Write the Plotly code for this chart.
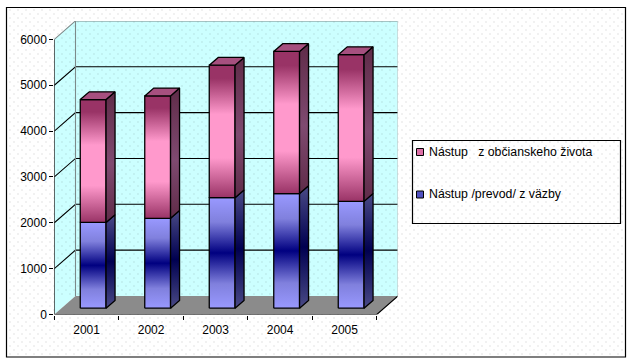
import numpy as np
import plotly.graph_objects as go

# ---- data
years = ["2001", "2002", "2003", "2004", "2005"]
vazby = [1870, 1960, 2410, 2500, 2330]
obcianske = [2680, 2670, 2890, 3100, 3200]
y_ticks = [0, 1000, 2000, 3000, 4000, 5000, 6000]
name_top = "Nástup   z občianskeho života"
name_bottom = "Nástup /prevod/ z väzby"

W, H = 632, 364
FONT = "Liberation Sans, Arial, sans-serif"

# plot window in pixels and the linear scales that follow from it
L, R, T, B = 54.3, 397.5, 21.0, 314.5
PX_X = 64.5
PX_Y = 0.04585
xr = [-0.5, -0.5 + (R - L) / PX_X]
yr = [0, (B - T) / PX_Y]
DX, DY = 21.2 / PX_X, 18.5 / PX_Y            # wall depth
X_END = 4.5
Y_TOP = 6000
BAR_OFF_X, BAR_OFF_Y = 6.6 / PX_X, 6.3 / PX_Y  # bars stand inside the floor
BW = 25.8 / PX_X                              # bar width
BDX, BDY = 9.0 / PX_X, 7.8 / PX_Y             # bar depth


def px_x(p):
    return xr[0] + (np.asarray(p, float) - L) / PX_X


def px_y(p):
    return (B - np.asarray(p, float)) / PX_Y


fig = go.Figure()
AX = dict(xaxis="x2", yaxis="y2", hoverinfo="skip", showlegend=False)


def poly(xs, ys, fill=None, line="rgba(0,0,0,0)", width=0, grad=None):
    kw = dict(fillgradient=grad) if grad else dict(fillcolor=fill)
    fig.add_trace(go.Scatter(x=xs, y=ys, mode="lines", fill="toself",
                             line=dict(color=line, width=width), **kw, **AX))


def seg(xs, ys, color="black", width=1):
    fig.add_trace(go.Scatter(x=xs, y=ys, mode="lines",
                             line=dict(color=color, width=width), **AX))


def dots(x0, x1, y0, y1):
    out_x, out_y = [], []
    for r, py in enumerate(np.arange(y0, y1, 4)):
        start = x0 + (4 if r % 2 else 0)
        for px in np.arange(start, x1, 8):
            out_x.append(px)
            out_y.append(py)
    return np.array(out_x), np.array(out_y)


# paper texture, in the full-figure pixel axes
dx_all, dy_all = dots(10, 623, 10, 355)
fig.add_trace(go.Scatter(x=dx_all, y=dy_all, mode="markers", hoverinfo="skip", showlegend=False,
                         marker=dict(symbol="square", size=1.2, color="#cfcfcf", line=dict(width=0))))

# walls and floor
poly([-0.5, -0.5 + DX, -0.5 + DX, -0.5], [Y_TOP, Y_TOP + DY, DY, 0], fill="#ccffff")
poly([-0.5 + DX, X_END + DX, X_END + DX, -0.5 + DX], [Y_TOP + DY, Y_TOP + DY, DY, DY], fill="#ccffff")
wx, wy = dots(10, 623, 10, 355)
keep = (wx > L) & (wx < R) & (wy > T) & (wy < B - 18) & ((wy - T) > (L + 21 - wx) * 0.87)
fig.add_trace(go.Scatter(x=px_x(wx[keep]), y=px_y(wy[keep]), mode="markers",
                         marker=dict(symbol="square", size=1.2, color="#a9d2d2", line=dict(width=0)), **AX))
poly([-0.5, -0.5 + DX, X_END + DX, X_END], [0, DY, DY, 0], fill="#8b8b8b")

# gridlines on both walls
for v in y_ticks[1:-1]:
    seg([-0.5, -0.5 + DX, X_END + DX], [v, v + DY, v + DY], width=1.1)
seg([-0.5, -0.5 + DX, X_END + DX, X_END + DX], [Y_TOP, Y_TOP + DY, Y_TOP + DY, DY], color="#7d8a8a", width=1.1)
seg([-0.5 + DX, -0.5 + DX], [DY, Y_TOP + DY], color="#7d8a8a", width=1.1)
seg([-0.5, -0.5, X_END, X_END + DX], [Y_TOP, 0, 0, DY], width=1.1)

# gradient fills of the stacked columns, listed from the top of a segment downwards
pink_front = [[0, "#993366"], [0.1, "#993366"], [0.37, "#ff99cc"], [0.7, "#ff99cc"], [1, "#993366"]]
pink_side = [[0, "#5f2b48"], [0.55, "#7f4a70"], [1, "#5f2b48"]]
blue_front = [[0, "#9999ff"], [0.22, "#8080dd"], [0.5, "#000080"], [0.78, "#8080dd"], [1, "#9999ff"]]
blue_side = [[0, "#4a4a86"], [0.5, "#000050"], [1, "#4a4a86"]]
TOP_FILL = "#a6507f"

for i in range(len(years)):
    x0 = i + BAR_OFF_X - BW / 2
    x1 = x0 + BW
    y0 = BAR_OFF_Y
    bottom, total = vazby[i], vazby[i] + obcianske[i]
    for a, b, front, side in [(0, bottom, blue_front, blue_side), (bottom, total, pink_front, pink_side)]:
        poly([x0, x1, x1, x0, x0], [y0 + a, y0 + a, y0 + b, y0 + b, y0 + a], line="black", width=1.3,
             grad=dict(type="vertical", colorscale=front, start=y0 + b, stop=y0 + a))
        poly([x1, x1 + BDX, x1 + BDX, x1, x1],
             [y0 + a, y0 + a + BDY, y0 + b + BDY, y0 + b, y0 + a], line="black", width=1.3,
             grad=dict(type="vertical", colorscale=side, start=y0 + b + BDY, stop=y0 + a))
    poly([x0, x1, x1 + BDX, x0 + BDX, x0],
         [y0 + total, y0 + total, y0 + total + BDY, y0 + total + BDY, y0 + total],
         fill=TOP_FILL, line="black", width=1.3)

shapes = [
    dict(type="rect", xref="paper", yref="paper", x0=6.5 / W, x1=625.5 / W, y0=1 - 357 / H, y1=1 - 7.5 / H,
         line=dict(color="black", width=1.2), layer="below"),
    dict(type="rect", xref="paper", yref="paper", x0=412.5 / W, x1=620.5 / W, y0=1 - 223.5 / H, y1=1 - 140.5 / H,
         line=dict(color="black", width=1.2), layer="below"),
    dict(type="rect", xref="paper", yref="paper", x0=416.5 / W, x1=423.5 / W, y0=1 - 155.5 / H, y1=1 - 148.5 / H,
         line=dict(color="black", width=1), fillcolor="#dd6fa6"),
    dict(type="rect", xref="paper", yref="paper", x0=416.5 / W, x1=423.5 / W, y0=1 - 198 / H, y1=1 - 191 / H,
         line=dict(color="black", width=1), fillcolor="#5050c0"),
]
annots = [
    dict(xref="paper", yref="paper", x=426.5 / W, y=1 - 151.5 / H, text=name_top, showarrow=False, xanchor="left",
         yanchor="middle", font=dict(family=FONT, size=12.3, color="black")),
    dict(xref="paper", yref="paper", x=426.5 / W, y=1 - 193.5 / H, text=name_bottom, showarrow=False, xanchor="left",
         yanchor="middle", font=dict(family=FONT, size=12.3, color="black")),
]

fig.update_layout(
    width=W, height=H, margin=dict(l=0, r=0, t=0, b=0), paper_bgcolor="white", plot_bgcolor="rgba(0,0,0,0)",
    showlegend=False, shapes=shapes, annotations=annots, font=dict(family=FONT, size=12, color="black"),
    xaxis=dict(domain=[0, 1], range=[0, W], visible=False, fixedrange=True, automargin=False),
    yaxis=dict(domain=[0, 1], range=[H, 0], visible=False, fixedrange=True, automargin=False),
    xaxis2=dict(domain=[L / W, R / W], range=xr, anchor="y2", showgrid=False, zeroline=False, showline=False,
                automargin=False,
                tickmode="array", tickvals=list(range(len(years))), ticktext=years, ticks="", ticklabelstandoff=6,
                minor=dict(tickmode="array", tickvals=[i - 0.5 for i in range(len(years) + 1)], ticks="outside",
                           ticklen=4, tickcolor="black", tickwidth=1, showgrid=False),
                tickfont=dict(family=FONT, size=12, color="black"), fixedrange=True),
    yaxis2=dict(domain=[1 - B / H, 1 - T / H], range=yr, anchor="x2", showgrid=False, zeroline=False, showline=False,
                automargin=False,
                tickmode="array", tickvals=y_ticks, ticks="outside", ticklen=4, tickcolor="black", tickwidth=1,
                tickfont=dict(family=FONT, size=12, color="black"), fixedrange=True),
)

fig.write_html("out.html", config=dict(displayModeBar=False),
               post_script="document.body.style.margin='0';document.body.style.overflow='hidden';")
